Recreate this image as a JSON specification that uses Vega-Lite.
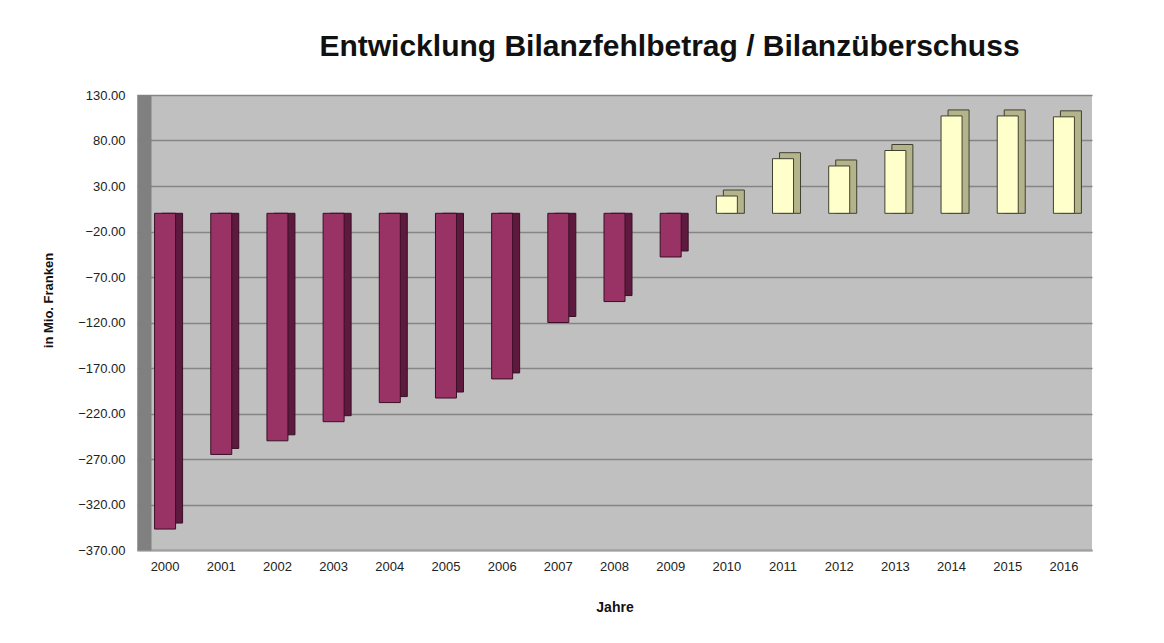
{
  "$schema": "https://vega.github.io/schema/vega-lite/v6.json",
  "width": 955,
  "height": 455,
  "autosize": "none",
  "padding": {"left": 137, "top": 95, "right": 72, "bottom": 93},
  "background": "white",
  "title": {
    "text": "Entwicklung Bilanzfehlbetrag / Bilanzüberschuss",
    "font": "Liberation Sans",
    "fontSize": 30,
    "fontWeight": "bold",
    "color": "#111111",
    "anchor": "middle",
    "dx": 55,
    "offset": 27
  },
  "config": {
    "view": {"fill": "#c0c0c0", "stroke": null},
    "axis": {"labelFont": "Liberation Sans", "titleFont": "Liberation Sans", "labelColor": "#222", "titleColor": "#111"}
  },
  "data": {
    "values": [
      {"Jahr": "2000", "Wert": -347, "Art": "Fehlbetrag"},
      {"Jahr": "2001", "Wert": -265, "Art": "Fehlbetrag"},
      {"Jahr": "2002", "Wert": -250, "Art": "Fehlbetrag"},
      {"Jahr": "2003", "Wert": -229, "Art": "Fehlbetrag"},
      {"Jahr": "2004", "Wert": -208, "Art": "Fehlbetrag"},
      {"Jahr": "2005", "Wert": -203, "Art": "Fehlbetrag"},
      {"Jahr": "2006", "Wert": -182, "Art": "Fehlbetrag"},
      {"Jahr": "2007", "Wert": -120, "Art": "Fehlbetrag"},
      {"Jahr": "2008", "Wert": -97, "Art": "Fehlbetrag"},
      {"Jahr": "2009", "Wert": -48, "Art": "Fehlbetrag"},
      {"Jahr": "2010", "Wert": 19, "Art": "Überschuss"},
      {"Jahr": "2011", "Wert": 60, "Art": "Überschuss"},
      {"Jahr": "2012", "Wert": 52, "Art": "Überschuss"},
      {"Jahr": "2013", "Wert": 69, "Art": "Überschuss"},
      {"Jahr": "2014", "Wert": 107, "Art": "Überschuss"},
      {"Jahr": "2015", "Wert": 107, "Art": "Überschuss"},
      {"Jahr": "2016", "Wert": 106, "Art": "Überschuss"}
    ]
  },
  "encoding": {
    "x": {
      "field": "Jahr",
      "type": "ordinal",
      "title": "Jahre",
      "scale": {"paddingInner": 0.6, "paddingOuter": 0.3},
      "axis": {
        "labelAngle": 0,
        "labelFontSize": 13,
        "labelPadding": 10,
        "ticks": false,
        "domainColor": "#a0a0a0",
        "domainWidth": 2,
        "titleFontSize": 14,
        "titleFontWeight": "bold",
        "titlePadding": 27
      }
    },
    "y": {
      "field": "Wert",
      "type": "quantitative",
      "title": "in Mio. Franken",
      "scale": {"domain": [-370, 130], "nice": false, "zero": false},
      "axis": {
        "values": [-370, -320, -270, -220, -170, -120, -70, -20, 30, 80, 130],
        "format": ".2f",
        "labelFontSize": 13,
        "labelPadding": 19,
        "ticks": false,
        "domainColor": "#808080",
        "domainWidth": 14,
        "offset": -7,
        "gridColor": "#858585",
        "gridWidth": 1.5,
        "titleFontSize": 13,
        "titleFontWeight": "bold",
        "titlePadding": 22,
        "titleY": 205
      }
    }
  },
  "layer": [
    {
      "mark": {"type": "bar", "size": 21, "xOffset": 7, "yOffset": -6, "strokeWidth": 1},
      "encoding": {
        "y2": {"datum": 0},
        "color": {
          "field": "Art",
          "type": "nominal",
          "legend": null,
          "scale": {"domain": ["Fehlbetrag", "Überschuss"], "range": ["#5e1a3e", "#b4b48c"]}
        },
        "stroke": {
          "field": "Art",
          "type": "nominal",
          "legend": null,
          "scale": {"domain": ["Fehlbetrag", "Überschuss"], "range": ["#3a0f25", "#404030"]}
        }
      }
    },
    {
      "mark": {"type": "bar", "size": 21, "strokeWidth": 1},
      "encoding": {
        "y2": {"datum": 0},
        "fill": {
          "field": "Art",
          "type": "nominal",
          "legend": null,
          "scale": {"domain": ["Fehlbetrag", "Überschuss"], "range": ["#993366", "#ffffcc"]}
        },
        "stroke": {
          "field": "Art",
          "type": "nominal",
          "legend": null,
          "scale": {"domain": ["Fehlbetrag", "Überschuss"], "range": ["#3a0f25", "#404030"]}
        }
      }
    }
  ],
  "resolve": {"scale": {"color": "independent", "fill": "independent", "stroke": "independent"}}
}
